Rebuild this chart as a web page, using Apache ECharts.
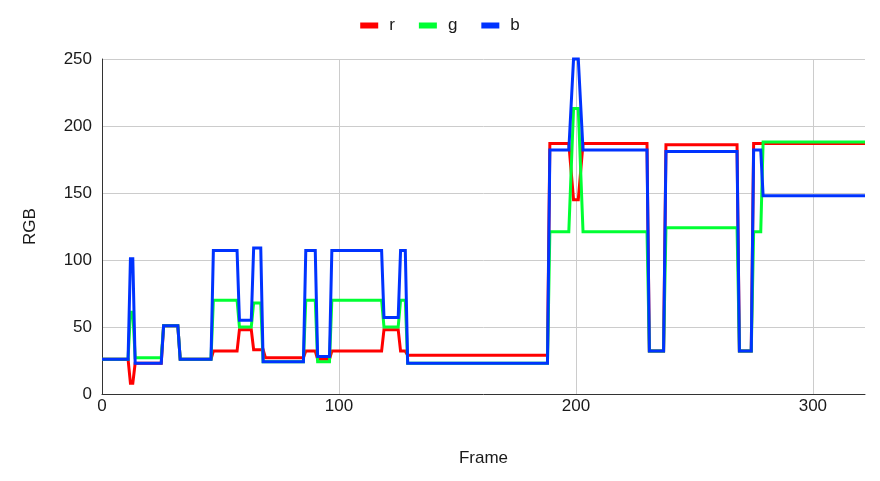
<!DOCTYPE html>
<html>
<head>
<meta charset="utf-8">
<script src="https://cdn.jsdelivr.net/npm/echarts@6/dist/echarts.min.js"></script>
<style>html,body{margin:0;padding:0;background:#fff}#c{width:880px;height:481px}</style>
</head>
<body>
<div id="c"></div>
<script>
const seriesNames = ['r', 'g', 'b'];
const seriesColors = ['#ff0000', '#00ff33', '#0033ff'];
const rPoints = [[0,26],[11,26],[12,8],[13,8],[14,23],[25,23],[26,51],[32,51],[33,26],[46,26],[47,32],[57,32],[58,48],[63,48],[64,33],[68,33],[69,27],[85,27],[86,32],[90,32],[91,26],[96,26],[97,32],[118,32],[119,48],[125,48],[126,32],[128,32],[129,29],[188,29],[189,187],[197,187],[199,145],[201,145],[203,187],[230,187],[231,32],[237,32],[238,186],[268,186],[269,32],[274,32],[275,187],[322,187]];
const gPoints = [[0,26],[11,26],[12,61],[13,61],[14,27],[25,27],[26,51],[32,51],[33,26],[46,26],[47,70],[57,70],[58,50],[63,50],[64,68],[67,68],[68,24],[85,24],[86,70],[90,70],[91,24],[96,24],[97,70],[118,70],[119,50],[125,50],[126,70],[128,70],[129,23],[188,23],[189,121],[197,121],[199,213],[201,213],[203,121],[230,121],[231,32],[237,32],[238,124],[268,124],[269,32],[274,32],[275,121],[278,121],[279,188],[322,188]];
const bPoints = [[0,26],[11,26],[12,101],[13,101],[14,23],[25,23],[26,51],[32,51],[33,26],[46,26],[47,107],[57,107],[58,55],[63,55],[64,109],[67,109],[68,24],[85,24],[86,107],[90,107],[91,28],[96,28],[97,107],[118,107],[119,57],[125,57],[126,107],[128,107],[129,23],[188,23],[189,182],[197,182],[199,250],[201,250],[203,182],[230,182],[231,32],[237,32],[238,181],[268,181],[269,32],[274,32],[275,182],[278,182],[279,148],[322,148]];
const xTicks = [0, 100, 200, 300];
const yTicks = [0, 50, 100, 150, 200, 250];

const allPoints = [rPoints, gPoints, bPoints];
const font = 'Liberation Sans, Arial, sans-serif';
const chart = echarts.init(document.getElementById('c'), null, {renderer: 'canvas'});
chart.setOption({
  animation: false,
  backgroundColor: '#ffffff',
  legend: {
    top: 12,
    left: 'center',
    icon: 'rect',
    itemWidth: 18,
    itemHeight: 6,
    itemGap: 24,
    textStyle: {fontFamily: font, fontSize: 17, color: '#1a1a1a', padding: [0, 0, 0, 6]},
    data: seriesNames
  },
  grid: {left: 102, right: 15, top: 59, bottom: 87, containLabel: false},
  xAxis: {
    type: 'value',
    min: xTicks[0],
    max: 322,
    interval: 100,
    name: 'Frame',
    nameLocation: 'middle',
    nameGap: 56,
    nameTextStyle: {fontFamily: font, fontSize: 17, color: '#1a1a1a'},
    axisLine: {show: true, lineStyle: {color: '#333', width: 1}},
    axisTick: {show: false},
    axisLabel: {fontFamily: font, fontSize: 17, color: '#1a1a1a', margin: 4, showMaxLabel: false,
      formatter: v => (xTicks.indexOf(v) >= 0 ? String(v) : '')},
    splitLine: {show: true, showMinLine: false, showMaxLine: false, lineStyle: {color: '#cccccc', width: 1}}
  },
  yAxis: {
    type: 'value',
    min: yTicks[0],
    max: yTicks[yTicks.length - 1],
    interval: 50,
    name: 'RGB',
    nameLocation: 'middle',
    nameGap: 63,
    nameTextStyle: {fontFamily: font, fontSize: 17, color: '#1a1a1a'},
    axisLine: {show: true, lineStyle: {color: '#333', width: 1}},
    axisTick: {show: false},
    axisLabel: {fontFamily: font, fontSize: 17, color: '#1a1a1a', margin: 10},
    splitLine: {show: true, showMinLine: false, lineStyle: {color: '#cccccc', width: 1}}
  },
  series: seriesNames.map((n, i) => ({
    name: n,
    type: 'line',
    data: allPoints[i],
    showSymbol: false,
    symbol: 'none',
    clip: false,
    color: seriesColors[i],
    lineStyle: {width: 3, color: seriesColors[i], join: 'miter', miterLimit: 4},
    z: 2 + i
  }))
});
</script>
</body>
</html>
